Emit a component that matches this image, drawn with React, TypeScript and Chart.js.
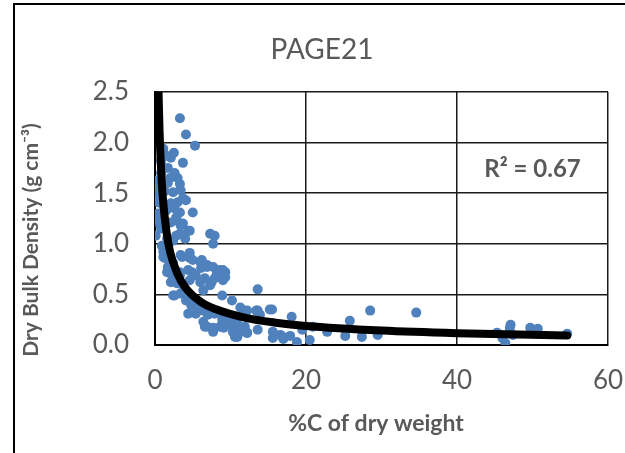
import React, { useEffect, useRef } from "react";
import { Chart, registerables } from "chart.js";

Chart.register(...registerables);

// %C of dry weight (x) and dry bulk density (y)
const carbonPct = [
  3.3, 4.1, 5.3, 1.1, 1.5, 2.1, 0.8, 3.7, 1.7, 0.8, 3.0, 0.1, 1.7, 3.3, 0.4, 2.4, 3.4, 3.7, 3.0, 4.1,
  0.8, 5.0, 1.5, 2.6, 3.3, 2.8, 0.4, 2.1, 0.4, 1.1, 2.4, 0.7, 2.9, 3.7, 0.7, 4.6, 3.3, 4.0, 1.6, 2.4,
  0.9, 0.4, 0.8, 0.1, 2.1, 3.4, 4.4, 2.8, 7.3, 7.9, 7.7, 0.2, 0.3, 1.3, 2.0, 1.2, 2.6, 2.5,
  1.1, 1.3, 2.4, 3.4, 4.6, 6.0, 2.0, 3.3, 4.4, 5.4, 6.1, 1.1, 1.7, 3.6, 4.6, 5.0, 1.7, 2.4, 3.3, 1.6,
  4.9, 6.9, 2.3, 2.9, 4.6, 6.6, 7.5, 8.2, 9.0, 9.3, 6.2, 6.9, 7.7, 8.6, 9.3, 7.9, 9.0, 7.3, 6.4, 13.6,
  8.9, 10.2, 11.3, 12.2, 15.2, 13.9, 6.9, 7.9, 9.0, 10.2, 11.0, 11.9, 10.3, 6.9, 7.7, 8.6, 10.9, 12.2,
  13.6, 15.9, 15.6,
  2.1, 3.3, 2.4, 3.4, 4.1, 4.8, 4.4, 5.4, 6.4, 6.6, 6.0, 2.6, 3.6, 5.0, 5.7, 6.4, 7.0, 7.7, 8.9, 9.1,
  9.9, 10.6, 11.3, 13.4,
  11.7, 13.6, 15.5, 18.1, 25.8, 28.5, 34.6, 19.5, 20.9, 22.8, 25.2, 27.4, 29.5, 20.5, 18.8, 17.9, 16.6,
  15.6, 17.0, 11.7, 12.2, 16.9,
  45.3, 46.0, 46.4, 47.1, 47.0, 47.4, 49.7, 50.7, 54.6,
];
const bulkDensity = [
  2.24, 2.08, 1.97, 1.94, 1.87, 1.85, 1.82, 1.80, 1.75, 1.70, 1.65, 1.62, 1.60, 1.59, 1.50, 1.51, 1.53, 1.45, 1.41, 1.43,
  1.40, 1.31, 1.33, 1.35, 1.31, 1.26, 1.30, 1.40, 1.41, 1.38, 1.36, 1.26, 1.23, 1.20, 1.18, 1.13, 1.10, 1.05, 1.05, 1.03,
  0.98, 1.23, 1.15, 1.08, 1.21, 1.18, 1.13, 1.08, 1.10, 1.08, 1.00, 1.48, 1.58, 1.52, 1.65, 1.75, 1.70, 1.90,
  0.92, 0.86, 0.81, 0.89, 0.86, 0.82, 0.71, 0.72, 0.74, 0.69, 0.76, 0.87, 0.85, 0.87, 0.91, 0.84, 0.77, 0.72, 0.69, 0.72,
  0.72, 0.77, 0.64, 0.61, 0.64, 0.66, 0.62, 0.71, 0.74, 0.67, 0.84, 0.79, 0.77, 0.74, 0.72, 0.66, 0.64, 0.59, 0.54, 0.55,
  0.49, 0.44, 0.37, 0.34, 0.35, 0.30, 0.34, 0.31, 0.28, 0.25, 0.20, 0.18, 0.13, 0.18, 0.17, 0.18, 0.08, 0.12,
  0.15, 0.10, 0.07,
  0.62, 0.61, 0.49, 0.51, 0.44, 0.39, 0.31, 0.31, 0.23, 0.18, 0.62, 0.49, 0.52, 0.44, 0.39, 0.34, 0.30, 0.13, 0.25, 0.17,
  0.20, 0.08, 0.13, 0.34,
  0.34, 0.34, 0.35, 0.28, 0.24, 0.34, 0.32, 0.15, 0.18, 0.13, 0.09, 0.08, 0.10, 0.05, 0.03, 0.09, 0.10,
  0.13, 0.06, 0.15, 0.12, 0.08,
  0.12, 0.07, 0.02, 0.20, 0.17, 0.10, 0.17, 0.16, 0.11,
];

// Power trend line
const trendX = [0.47, 0.6, 0.8, 1, 1.5, 2, 3, 4, 6, 8, 12, 16, 20, 30, 40, 54.6];
const trendY = [2.5, 2.12, 1.74, 1.49, 1.13, 0.92, 0.7, 0.57, 0.43, 0.355, 0.268, 0.22, 0.188, 0.143, 0.117, 0.094];

const xTicks = [0, 20, 40, 60];
const yTicks = [0, 0.5, 1.0, 1.5, 2.0, 2.5];

const chartTitle = "PAGE21";
const xTitle = "%C of dry weight";
const yTitle = "Dry Bulk Density (g cm\u207B\u00B3)";
const r2Label = "R\u00B2 = 0.67";

const FONT = "Lato, 'Open Sans', sans-serif";
const TEXT = "#595959";

export default function App() {
  const ref = useRef<HTMLCanvasElement | null>(null);

  useEffect(() => {
    if (!ref.current) return;
    const decor = {
      id: "decor",
      beforeDraw(chart: any) {
        const ctx = chart.ctx;
        ctx.save();
        ctx.fillStyle = "#fff";
        ctx.fillRect(0, 0, chart.width, chart.height);
        ctx.strokeStyle = "#000";
        ctx.lineWidth = 2;
        ctx.beginPath();
        ctx.moveTo(14, chart.height);
        ctx.lineTo(14, 4);
        ctx.lineTo(chart.width, 4);
        ctx.stroke();
        ctx.restore();
      },
      afterDraw(chart: any) {
        const ctx = chart.ctx;
        const xs = chart.scales.x;
        const ys = chart.scales.y;
        ctx.save();
        ctx.fillStyle = TEXT;
        ctx.textAlign = "center";
        ctx.textBaseline = "middle";
        ctx.font = `28px ${FONT}`;
        ctx.fillText(chartTitle, 322, 50);
        ctx.font = `bold 23px ${FONT}`;
        ctx.fillText(xTitle, 376, 424);
        ctx.font = `bold 24px ${FONT}`;
        ctx.fillText(r2Label, xs.getPixelForValue(50), ys.getPixelForValue(1.74));
        ctx.translate(31, 240);
        ctx.rotate(-Math.PI / 2);
        ctx.font = `bold 21px ${FONT}`;
        ctx.fillText(yTitle, 0, 0);
        ctx.restore();
      },
    };

    const chart = new Chart(ref.current, {
      type: "scatter",
      data: {
        datasets: [
          {
            label: "trend",
            data: trendX.map((x, i) => ({ x, y: trendY[i] })),
            showLine: true,
            borderColor: "#000",
            borderWidth: 8,
            borderCapStyle: "round",
            pointRadius: 0,
            cubicInterpolationMode: "monotone",
            order: 0,
          } as any,
          {
            label: "data",
            data: carbonPct.map((x, i) => ({ x, y: bulkDensity[i] })),
            backgroundColor: "#4f81bd",
            borderWidth: 0,
            pointRadius: 5,
            order: 1,
          },
        ],
      },
      options: {
        animation: false,
        responsive: false,
        devicePixelRatio: 1,
        layout: { padding: { top: 92, right: 17, left: 0, bottom: 0 } },
        plugins: { legend: { display: false }, tooltip: { enabled: false }, title: { display: false } },
        scales: {
          x: {
            type: "linear",
            min: 0,
            max: 60,
            afterBuildTicks: (s: any) => {
              s.ticks = xTicks.map((v) => ({ value: v }));
            },
            afterFit: (s: any) => {
              s.height = 108;
              s.paddingLeft = 0;
              s.paddingRight = 0;
            },
            grid: { color: "#1a1a1a", lineWidth: 1.5, drawTicks: false },
            border: { color: "#000", width: 2 },
            ticks: { color: TEXT, font: { family: FONT, size: 26 }, padding: 20, maxRotation: 0 },
          },
          y: {
            type: "linear",
            min: 0,
            max: 2.5,
            afterBuildTicks: (s: any) => {
              s.ticks = yTicks.map((v) => ({ value: v }));
            },
            afterFit: (s: any) => {
              s.width = 155;
              s.paddingTop = 0;
              s.paddingBottom = 0;
            },
            grid: { color: "#1a1a1a", lineWidth: 1.5, drawTicks: false },
            border: { color: "#000", width: 2 },
            ticks: {
              color: TEXT,
              font: { family: FONT, size: 26 },
              padding: 26,
              callback: (v: any) => Number(v).toFixed(1),
            },
          },
        },
      },
      plugins: [decor],
    });
    return () => chart.destroy();
  }, []);

  return (
    <div style={{ position: "fixed", left: 0, top: 0, width: 625, height: 453, background: "#fff" }}>
      <canvas ref={ref} width={625} height={453} style={{ display: "block" }} />
    </div>
  );
}
